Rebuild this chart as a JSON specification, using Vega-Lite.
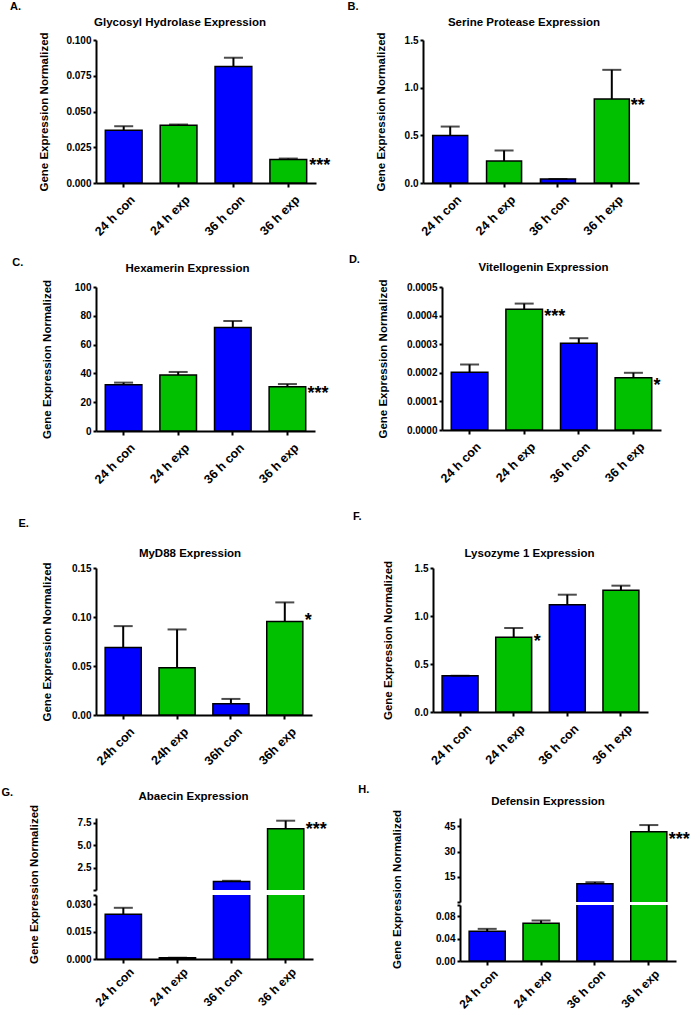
{
"$schema":"https://vega.github.io/schema/vega-lite/v6.json",
"background":"white",
"padding":{"left":1,"top":1,"right":0,"bottom":0},
"datasets":{
"A":[{"group":"24 h con","cond":"con","value":0.0369,"upper":0.0397},{"group":"24 h exp","cond":"exp","value":0.0404,"upper":0.0409},{"group":"36 h con","cond":"con","value":0.0815,"upper":0.0876},{"group":"36 h exp","cond":"exp","value":0.0164,"upper":0.0171,"sig":"***"}],
"B":[{"group":"24 h con","cond":"con","value":0.498,"upper":0.592},{"group":"24 h exp","cond":"exp","value":0.23,"upper":0.341},{"group":"36 h con","cond":"con","value":0.042,"upper":0.042},{"group":"36 h exp","cond":"exp","value":0.88,"upper":1.187,"sig":"**"}],
"C":[{"group":"24 h con","cond":"con","value":32.2,"upper":33.6},{"group":"24 h exp","cond":"exp","value":38.9,"upper":41.0},{"group":"36 h con","cond":"con","value":71.8,"upper":76.4},{"group":"36 h exp","cond":"exp","value":30.8,"upper":32.6,"sig":"***"}],
"D":[{"group":"24 h con","cond":"con","value":0.000202,"upper":0.000229},{"group":"24 h exp","cond":"exp","value":0.000422,"upper":0.000442,"sig":"***"},{"group":"36 h con","cond":"con","value":0.000303,"upper":0.000321},{"group":"36 h exp","cond":"exp","value":0.000183,"upper":0.0002,"sig":"*"}],
"E":[{"group":"24h con","cond":"con","value":0.0689,"upper":0.0907},{"group":"24h exp","cond":"exp","value":0.0481,"upper":0.0873},{"group":"36h con","cond":"con","value":0.0116,"upper":0.0164},{"group":"36h exp","cond":"exp","value":0.0955,"upper":0.1149,"sig":"*"}],
"F":[{"group":"24 h con","cond":"con","value":0.378,"upper":0.378},{"group":"24 h exp","cond":"exp","value":0.778,"upper":0.875,"sig":"*"},{"group":"36 h con","cond":"con","value":1.118,"upper":1.222},{"group":"36 h exp","cond":"exp","value":1.267,"upper":1.316}],
"G":[{"group":"24 h con","cond":"con","value":0.0245,"upper":0.028},{"group":"24 h exp","cond":"exp","value":0.0007,"upper":0.0007},{"group":"36 h con","cond":"con","value":0.95,"upper":1.02},{"group":"36 h exp","cond":"exp","value":6.8,"upper":7.7,"sig":"***"}],
"H":[{"group":"24 h con","cond":"con","value":0.0533,"upper":0.0574},{"group":"24 h exp","cond":"exp","value":0.0676,"upper":0.0723},{"group":"36 h con","cond":"con","value":10.8,"upper":11.8},{"group":"36 h exp","cond":"exp","value":41.8,"upper":45.8,"sig":"***"}]
},
"columns":1,"align":"none","spacing":24,
"concat":[
{"columns":1,"align":"none","spacing":16,"concat":[
 {"columns":2,"align":"none","spacing":16,"concat":[
  {"title":{"text":"A.","anchor":"start","frame":"bounds","dx":-29,"offset":5,"fontSize":11},
   "vconcat":[{
    "title":{"text":"Glycosyl Hydrolase Expression","dx":-26,"offset":3},
    "width":220,"height":143,"data":{"name":"A"},
    "encoding":{"x":{"field":"group","type":"nominal","title":null,"scale":{"domain":["24 h con","24 h exp","36 h con","36 h exp"],"paddingInner":0.33,"paddingOuter":0.17}}},
    "layer":[
     {"mark":"bar","encoding":{"y":{"field":"value","type":"quantitative","title":"Gene Expression Normalized","scale":{"domain":[0,0.1],"nice":false},"axis":{"values":[0,0.025,0.05,0.075,0.1],"tickCount":20,"format":".3f","titlePadding":16}},"color":{"field":"cond","type":"nominal","scale":{"domain":["con","exp"],"range":["#0000ff","#00c000"]},"legend":null}}},
     {"mark":"rule","encoding":{"y":{"field":"value","type":"quantitative","title":"Gene Expression Normalized"},"y2":{"field":"upper"}}},
     {"mark":"tick","encoding":{"y":{"field":"upper","type":"quantitative","title":"Gene Expression Normalized"}}},
     {"transform":[{"filter":"datum.sig"}],"mark":{"type":"text","align":"left","baseline":"alphabetic","dx":21,"dy":11},"encoding":{"y":{"field":"value","type":"quantitative","title":"Gene Expression Normalized"},"text":{"field":"sig"}}}
    ]}]},
  {"title":{"text":"B.","anchor":"start","frame":"bounds","dx":-27.5,"offset":5,"fontSize":11},
   "vconcat":[{
    "title":{"text":"Serine Protease Expression","dx":-7,"offset":3},
    "width":216,"height":143,"data":{"name":"B"},
    "encoding":{"x":{"field":"group","type":"nominal","title":null,"scale":{"domain":["24 h con","24 h exp","36 h con","36 h exp"],"paddingInner":0.35,"paddingOuter":0.18}}},
    "layer":[
     {"mark":"bar","encoding":{"y":{"field":"value","type":"quantitative","title":"Gene Expression Normalized","scale":{"domain":[0,1.5],"nice":false},"axis":{"values":[0,0.5,1,1.5],"tickCount":20,"format":".1f","titlePadding":18}},"color":{"field":"cond","type":"nominal","scale":{"domain":["con","exp"],"range":["#0000ff","#00c000"]},"legend":null}}},
     {"mark":"rule","encoding":{"y":{"field":"value","type":"quantitative","title":"Gene Expression Normalized"},"y2":{"field":"upper"}}},
     {"mark":"tick","encoding":{"y":{"field":"upper","type":"quantitative","title":"Gene Expression Normalized"}}},
     {"transform":[{"filter":"datum.sig"}],"mark":{"type":"text","align":"left","baseline":"alphabetic","dx":19,"dy":12},"encoding":{"y":{"field":"value","type":"quantitative","title":"Gene Expression Normalized"},"text":{"field":"sig"}}}
    ]}]}
 ]},
 {"columns":2,"align":"none","spacing":19,"concat":[
  {"title":{"text":"C.","anchor":"start","frame":"bounds","dx":-29,"offset":-5,"fontSize":11},
   "vconcat":[{
    "title":{"text":"Hexamerin Expression","dx":-18,"offset":5},
    "width":219,"height":144,"data":{"name":"C"},
    "encoding":{"x":{"field":"group","type":"nominal","title":null,"scale":{"domain":["24 h con","24 h exp","36 h con","36 h exp"],"paddingInner":0.33,"paddingOuter":0.17}}},
    "layer":[
     {"mark":"bar","encoding":{"y":{"field":"value","type":"quantitative","title":"Gene Expression Normalized","scale":{"domain":[0,100],"nice":false},"axis":{"values":[0,20,40,60,80,100],"tickCount":20,"titlePadding":22}},"color":{"field":"cond","type":"nominal","scale":{"domain":["con","exp"],"range":["#0000ff","#00c000"]},"legend":null}}},
     {"mark":"rule","encoding":{"y":{"field":"value","type":"quantitative","title":"Gene Expression Normalized"},"y2":{"field":"upper"}}},
     {"mark":"tick","encoding":{"y":{"field":"upper","type":"quantitative","title":"Gene Expression Normalized"}}},
     {"transform":[{"filter":"datum.sig"}],"mark":{"type":"text","align":"left","baseline":"alphabetic","dx":20,"dy":12},"encoding":{"y":{"field":"value","type":"quantitative","title":"Gene Expression Normalized"},"text":{"field":"sig"}}}
    ]}]},
  {"title":{"text":"D.","anchor":"start","frame":"bounds","dx":-28.5,"offset":-3,"fontSize":11},
   "vconcat":[{
    "title":{"text":"Vitellogenin Expression","dx":-8,"offset":5},
    "width":219,"height":143,"data":{"name":"D"},
    "encoding":{"x":{"field":"group","type":"nominal","title":null,"scale":{"domain":["24 h con","24 h exp","36 h con","36 h exp"],"paddingInner":0.33,"paddingOuter":0.17}}},
    "layer":[
     {"mark":"bar","encoding":{"y":{"field":"value","type":"quantitative","title":"Gene Expression Normalized","scale":{"domain":[0,0.0005],"nice":false},"axis":{"values":[0,0.0001,0.0002,0.0003,0.0004,0.0005],"tickCount":20,"format":".4f","titlePadding":18}},"color":{"field":"cond","type":"nominal","scale":{"domain":["con","exp"],"range":["#0000ff","#00c000"]},"legend":null}}},
     {"mark":"rule","encoding":{"y":{"field":"value","type":"quantitative","title":"Gene Expression Normalized"},"y2":{"field":"upper"}}},
     {"mark":"tick","encoding":{"y":{"field":"upper","type":"quantitative","title":"Gene Expression Normalized"}}},
     {"transform":[{"filter":"datum.sig"}],"mark":{"type":"text","align":"left","baseline":"alphabetic","dx":20,"dy":13},"encoding":{"y":{"field":"value","type":"quantitative","title":"Gene Expression Normalized"},"text":{"field":"sig"}}}
    ]}]}
 ]}
]},
{"columns":1,"align":"none","spacing":15,"concat":[
 {"columns":2,"align":"none","spacing":41,"concat":[
  {"title":{"text":"E.","anchor":"start","frame":"bounds","dx":-22.5,"offset":19,"fontSize":11},
   "vconcat":[{
    "title":{"text":"MyD88 Expression","dx":-14,"offset":2},
    "width":216,"height":147,"data":{"name":"E"},
    "encoding":{"x":{"field":"group","type":"nominal","title":null,"scale":{"domain":["24h con","24h exp","36h con","36h exp"],"paddingInner":0.33,"paddingOuter":0.17}}},
    "layer":[
     {"mark":"bar","encoding":{"y":{"field":"value","type":"quantitative","title":"Gene Expression Normalized","scale":{"domain":[0,0.15],"nice":false},"axis":{"values":[0,0.05,0.1,0.15],"tickCount":20,"format":".2f","titlePadding":19.5}},"color":{"field":"cond","type":"nominal","scale":{"domain":["con","exp"],"range":["#0000ff","#00c000"]},"legend":null}}},
     {"mark":"rule","encoding":{"y":{"field":"value","type":"quantitative","title":"Gene Expression Normalized"},"y2":{"field":"upper"}}},
     {"mark":"tick","encoding":{"y":{"field":"upper","type":"quantitative","title":"Gene Expression Normalized"}}},
     {"transform":[{"filter":"datum.sig"}],"mark":{"type":"text","align":"left","baseline":"alphabetic","dx":20,"dy":5},"encoding":{"y":{"field":"value","type":"quantitative","title":"Gene Expression Normalized"},"text":{"field":"sig"}}}
    ]}]},
  {"title":{"text":"F.","anchor":"start","frame":"bounds","dx":-29.5,"offset":26,"fontSize":11},
   "vconcat":[{
    "title":{"text":"Lysozyme 1 Expression","dx":-11,"offset":1},
    "width":215,"height":144,"data":{"name":"F"},
    "encoding":{"x":{"field":"group","type":"nominal","title":null,"scale":{"domain":["24 h con","24 h exp","36 h con","36 h exp"],"paddingInner":0.33,"paddingOuter":0.17}}},
    "layer":[
     {"mark":"bar","encoding":{"y":{"field":"value","type":"quantitative","title":"Gene Expression Normalized","scale":{"domain":[0,1.5],"nice":false},"axis":{"values":[0,0.5,1,1.5],"tickCount":20,"format":".1f","titlePadding":20.5}},"color":{"field":"cond","type":"nominal","scale":{"domain":["con","exp"],"range":["#0000ff","#00c000"]},"legend":null}}},
     {"mark":"rule","encoding":{"y":{"field":"value","type":"quantitative","title":"Gene Expression Normalized"},"y2":{"field":"upper"}}},
     {"mark":"tick","encoding":{"y":{"field":"upper","type":"quantitative","title":"Gene Expression Normalized"}}},
     {"transform":[{"filter":"datum.sig"}],"mark":{"type":"text","align":"left","baseline":"alphabetic","dx":20,"dy":10},"encoding":{"y":{"field":"value","type":"quantitative","title":"Gene Expression Normalized"},"text":{"field":"sig"}}}
    ]}]}
 ]},
 {"columns":2,"align":"none","spacing":31,"concat":[
  {"title":{"text":"G.","anchor":"start","frame":"bounds","dx":-26.5,"offset":-7,"fontSize":11},
   "vconcat":[{
    "bounds":"flush","spacing":5,
    "vconcat":[
     {"title":{"text":"Abaecin Expression","dx":-11,"offset":2},
      "width":217,"height":72,"data":{"name":"G"},"transform":[{"filter":"datum.value > 0.035"}],
      "encoding":{"x":{"field":"group","type":"nominal","title":null,"axis":null,"scale":{"domain":["24 h con","24 h exp","36 h con","36 h exp"],"paddingInner":0.33,"paddingOuter":0.17}}},
      "layer":[
       {"mark":{"type":"bar","clip":true},"encoding":{"y":{"field":"value","type":"quantitative","title":"Gene Expression Normalized","scale":{"domain":[0,8],"nice":false},"axis":{"values":[0,2.5,5,7.5],"tickCount":20,"format":".1f","labelExpr":"datum.value == 0 ? '' : datum.label","titleX":-57,"titleY":66}},"y2":{"datum":-0.5},"color":{"field":"cond","type":"nominal","scale":{"domain":["con","exp"],"range":["#0000ff","#00c000"]},"legend":null}}},
       {"mark":"rule","encoding":{"y":{"field":"value","type":"quantitative","title":"Gene Expression Normalized"},"y2":{"field":"upper"}}},
       {"mark":"tick","encoding":{"y":{"field":"upper","type":"quantitative","title":"Gene Expression Normalized"}}},
       {"transform":[{"filter":"datum.sig"}],"mark":{"type":"text","align":"left","baseline":"alphabetic","dx":20,"dy":6},"encoding":{"y":{"field":"value","type":"quantitative","title":"Gene Expression Normalized"},"text":{"field":"sig"}}}
      ]},
     {"width":217,"height":64,"data":{"name":"G"},
      "encoding":{"x":{"field":"group","type":"nominal","title":null,"axis":{"labelFontSize":12,"labelPadding":3},"scale":{"domain":["24 h con","24 h exp","36 h con","36 h exp"],"paddingInner":0.33,"paddingOuter":0.17}}},
      "layer":[
       {"mark":{"type":"bar","clip":true},"encoding":{"y":{"field":"value","type":"quantitative","title":null,"scale":{"domain":[0,0.035],"nice":false},"axis":{"values":[0,0.015,0.03,0.035],"tickCount":20,"format":".3f","labelExpr":"datum.value == 0.035 ? '' : datum.label"}},"color":{"field":"cond","type":"nominal","scale":{"domain":["con","exp"],"range":["#0000ff","#00c000"]},"legend":null}}},
       {"mark":{"type":"rule","clip":true},"encoding":{"y":{"field":"value","type":"quantitative","title":null},"y2":{"field":"upper"}}},
       {"mark":{"type":"tick","clip":true},"encoding":{"y":{"field":"upper","type":"quantitative","title":null}}}
      ]}
    ]}]},
  {"title":{"text":"H.","anchor":"start","frame":"bounds","dx":-32.8,"offset":1,"fontSize":11},
   "vconcat":[{
    "bounds":"flush","spacing":3,
    "vconcat":[
     {"title":{"text":"Defensin Expression","dx":-20,"offset":2},
      "width":216,"height":84,"data":{"name":"H"},"transform":[{"filter":"datum.value > 0.1"}],
      "encoding":{"x":{"field":"group","type":"nominal","title":null,"axis":null,"scale":{"domain":["24 h con","24 h exp","36 h con","36 h exp"],"paddingInner":0.33,"paddingOuter":0.17}}},
      "layer":[
       {"mark":{"type":"bar","clip":true},"encoding":{"y":{"field":"value","type":"quantitative","title":"Gene Expression Normalized","scale":{"domain":[0,50],"nice":false},"axis":{"values":[0,15,30,45],"tickCount":20,"labelExpr":"datum.value == 0 ? '' : datum.label","titleX":-58,"titleY":71}},"y2":{"datum":-3},"color":{"field":"cond","type":"nominal","scale":{"domain":["con","exp"],"range":["#0000ff","#00c000"]},"legend":null}}},
       {"mark":"rule","encoding":{"y":{"field":"value","type":"quantitative","title":"Gene Expression Normalized"},"y2":{"field":"upper"}}},
       {"mark":"tick","encoding":{"y":{"field":"upper","type":"quantitative","title":"Gene Expression Normalized"}}},
       {"transform":[{"filter":"datum.sig"}],"mark":{"type":"text","align":"left","baseline":"alphabetic","dx":20,"dy":13},"encoding":{"y":{"field":"value","type":"quantitative","title":"Gene Expression Normalized"},"text":{"field":"sig"}}}
      ]},
     {"width":216,"height":56,"data":{"name":"H"},
      "encoding":{"x":{"field":"group","type":"nominal","title":null,"axis":{"labelFontSize":12,"labelPadding":3},"scale":{"domain":["24 h con","24 h exp","36 h con","36 h exp"],"paddingInner":0.33,"paddingOuter":0.17}}},
      "layer":[
       {"mark":{"type":"bar","clip":true},"encoding":{"y":{"field":"value","type":"quantitative","title":null,"scale":{"domain":[0,0.1],"nice":false},"axis":{"values":[0,0.04,0.08,0.1],"tickCount":20,"format":".2f","labelExpr":"datum.value == 0.1 ? '' : datum.label"}},"color":{"field":"cond","type":"nominal","scale":{"domain":["con","exp"],"range":["#0000ff","#00c000"]},"legend":null}}},
       {"mark":{"type":"rule","clip":true},"encoding":{"y":{"field":"value","type":"quantitative","title":null},"y2":{"field":"upper"}}},
       {"mark":{"type":"tick","clip":true},"encoding":{"y":{"field":"upper","type":"quantitative","title":null}}}
      ]}
    ]}]}
 ]}
]}
],
"config":{
 "font":"Liberation Sans",
 "view":{"stroke":null},
 "title":{"fontSize":11.5,"fontWeight":"bold","color":"black","font":"Liberation Sans"},
 "axis":{"grid":false,"domainColor":"black","domainWidth":2,"tickColor":"black","tickWidth":2,"tickSize":4,"labelColor":"black","labelFont":"Liberation Sans","labelFontWeight":"bold","labelFontSize":10,"labelOverlap":false,"titleFont":"Liberation Sans","titleFontWeight":"bold","titleColor":"black","titleFontSize":11.5},
 "axisX":{"labelAngle":-45,"labelFontSize":12.5,"labelPadding":6,"labelOffset":5},
 "axisY":{"labelPadding":2,"tickSize":3},
 "bar":{"stroke":"black","strokeWidth":1.5},
 "rule":{"color":"black","strokeWidth":2},
 "tick":{"color":"black","thickness":2,"size":19},
 "text":{"font":"Liberation Sans","fontWeight":"bold","fontSize":18,"color":"black"}
}
}
